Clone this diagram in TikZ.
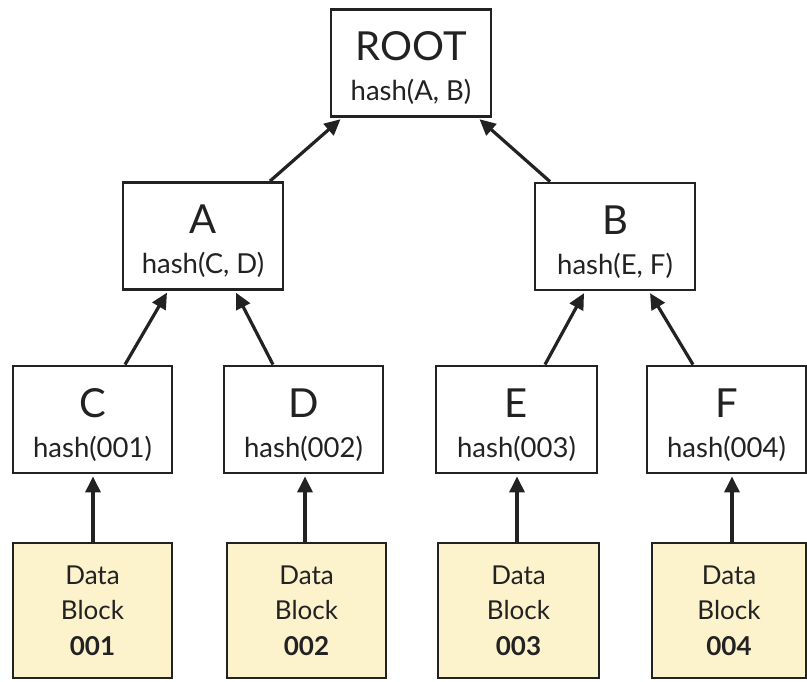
\documentclass[tikz,border=0pt]{standalone}
\usepackage{fontspec}
\setmainfont{Lato}
\usetikzlibrary{arrows.meta,calc}
\definecolor{inkc}{HTML}{222222}
\definecolor{blockfill}{HTML}{FCF2CC}
\tikzset{
  hashbox/.style={draw=inkc, line width=2.8pt, fill=white, inner sep=0pt,
    minimum width=160pt, minimum height=107pt},
  databox/.style={hashbox, fill=blockfill, minimum height=135pt},
  titletxt/.style={anchor=base, inner sep=0pt, text=inkc, font=\fontsize{40}{40}\selectfont},
  hashtxt/.style={anchor=base, inner sep=0pt, text=inkc, font=\fontsize{27.5}{28}\selectfont},
  blocktxt/.style={anchor=base, inner sep=0pt, text=inkc, font=\fontsize{26}{28}\selectfont},
  link/.style={draw=inkc, line width=3.2pt,
    -{Triangle[length=16pt,width=15pt]}, shorten >=2pt},
}
% #1 name, #2 centre, #3 width, #4 title, #5 hash text
\newcommand{\hashnode}[5]{%
  \node[hashbox, minimum width=#3pt] (#1) at (#2) {};
  \node[titletxt] (#1-t) at ($(#1.center)+(0,2)$) {#4};
  \node[hashtxt] (#1-h) at ($(#1.center)+(0,-38)$) {#5};
}
% #1 name, #2 centre, #3 width, #4 block number
\newcommand{\datanode}[4]{%
  \node[databox, minimum width=#3pt] (#1) at (#2) {};
  \node[blocktxt] (#1-a) at ($(#1.center)+(0,25.5)$) {Data};
  \node[blocktxt] (#1-b) at ($(#1.center)+(0,-9.5)$) {Block};
  \node[blocktxt, font=\fontsize{26}{28}\selectfont\bfseries] (#1-c) at ($(#1.center)+(0,-45.5)$) {#4};
}
\begin{document}
\begin{tikzpicture}[x=1pt,y=1pt]
\useasboundingbox (0,0) rectangle (807,681);
\fill[white] (0,0) rectangle (807,681);

% hash nodes
\hashnode{root}{411,618}{160}{ROOT}{hash(A, B)}
\hashnode{a}{203,445}{160}{A}{hash(C, D)}
\hashnode{b}{615,444.5}{160}{B}{hash(E, F)}
\hashnode{c}{92.5,261.5}{159}{C}{hash(001)}
\hashnode{d}{303.5,261.5}{159}{D}{hash(002)}
\hashnode{e}{516.5,261.5}{161}{E}{hash(003)}
\hashnode{f}{726.5,261.5}{159}{F}{hash(004)}

% data blocks
\datanode{d1}{92.5,70.5}{159}{001}
\datanode{d2}{306.5,70.5}{159}{002}
\datanode{d3}{518.5,70.5}{161}{003}
\datanode{d4}{729,70.5}{154}{004}

% hashes feed upwards
\draw[link] ($(a.north)+(67,0)$) -- ($(root.south)+(-69,0)$);
\draw[link] ($(b.north)+(-65,0)$) -- ($(root.south)+(67,0)$);
\draw[link] ($(c.north)+(32.5,0)$) -- ($(a.south)+(-35,0)$);
\draw[link] ($(d.north)+(-30.5,0)$) -- ($(a.south)+(32,0)$);
\draw[link] ($(e.north)+(28.5,0)$) -- ($(b.south)+(-30,0)$);
\draw[link] ($(f.north)+(-33.5,0)$) -- ($(b.south)+(34,0)$);
\draw[link] ($(d1.north)+(0.5,0)$) -- ($(c.south)+(0.5,0)$);
\draw[link] ($(d2.north)+(-1.5,0)$) -- ($(d.south)+(1.5,0)$);
\draw[link] ($(d3.north)+(-1.5,0)$) -- ($(e.south)+(0.5,0)$);
\draw[link] ($(d4.north)+(3,0)$) -- ($(f.south)+(5.5,0)$);
\end{tikzpicture}
\end{document}
